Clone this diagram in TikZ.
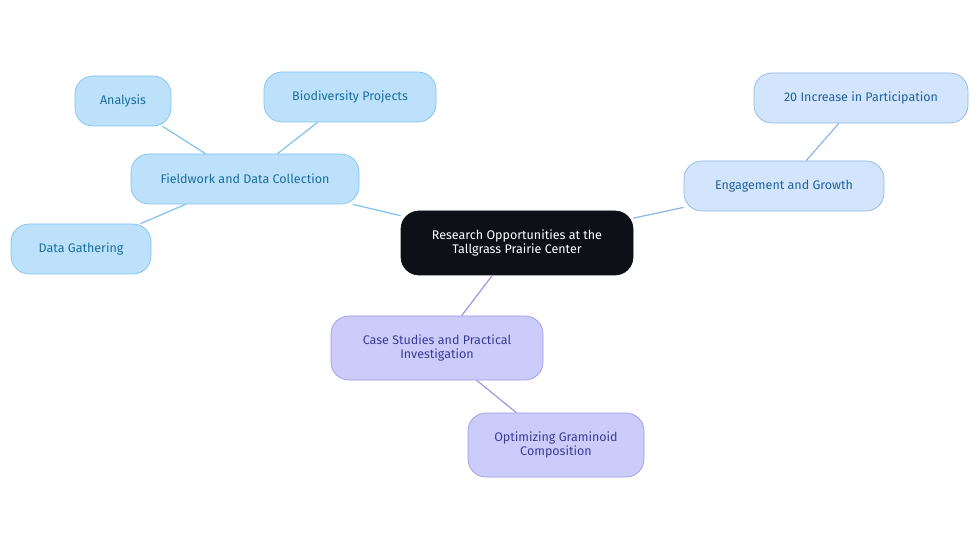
\documentclass[tikz,border=0pt]{standalone}
\usepackage{fontspec}
\setmainfont{Fira Sans}
\definecolor{cfill}{HTML}{0D1117}
\definecolor{bfill}{HTML}{BDE0FB}
\definecolor{bline}{HTML}{7EC2EE}
\definecolor{btext}{HTML}{1A6E9C}
\definecolor{efill}{HTML}{D2E5FC}
\definecolor{eline}{HTML}{8DB5E8}
\definecolor{etext}{HTML}{22609E}
\definecolor{pfill}{HTML}{CCCCFB}
\definecolor{pline}{HTML}{9C97E2}
\definecolor{ptext}{HTML}{3A3A98}
\begin{document}
\begin{tikzpicture}[x=1pt,y=-1pt,
 base/.style={rounded corners=18pt,draw,line width=0.7pt,align=center,inner sep=0pt,font=\fontsize{12.5}{14}\selectfont},
 blue/.style={base,fill=bfill,draw=bline,text=btext},
 eng/.style={base,fill=efill,draw=eline,text=etext},
 pur/.style={base,fill=pfill,draw=pline,text=ptext},
 lb/.style={draw=bline,line width=1.2pt},
 le/.style={draw=eline,line width=1.2pt},
 lp/.style={draw=pline,line width=1.2pt}]
\useasboundingbox (0,0) rectangle (980,553);
\node[base,fill=cfill,draw=cfill,text=white,minimum width=232pt,minimum height=64pt] (c) at (517,243) {Research Opportunities at the\\Tallgrass Prairie Center};
\node[blue,minimum width=228pt,minimum height=50pt] (f) at (245,179) {Fieldwork and Data Collection};
\node[blue,minimum width=96pt,minimum height=50pt] (a) at (123,101) {Analysis};
\node[blue,minimum width=172pt,minimum height=50pt] (b) at (350,97) {Biodiversity Projects};
\node[blue,minimum width=140pt,minimum height=50pt] (d) at (81,249) {Data Gathering};
\node[eng,minimum width=200pt,minimum height=50pt] (e) at (784,186) {Engagement and Growth};
\node[eng,minimum width=214pt,minimum height=50pt] (i) at (861,98) {20 Increase in Participation};
\node[pur,minimum width=212pt,minimum height=64pt] (s) at (437,348) {Case Studies and Practical\\Investigation};
\node[pur,minimum width=176pt,minimum height=64pt] (o) at (556,445) {Optimizing Graminoid\\Composition};
\begin{scope}[on background layer/.try]
\end{scope}
\draw[lb] (c) -- (f);
\draw[lb] (f) -- (a);
\draw[lb] (f) -- (b);
\draw[lb] (f) -- (d);
\draw[le] (c) -- (e);
\draw[le] (e) -- (i);
\draw[lp] (c) -- (s);
\draw[lp] (s) -- (o);
\end{tikzpicture}
\end{document}
